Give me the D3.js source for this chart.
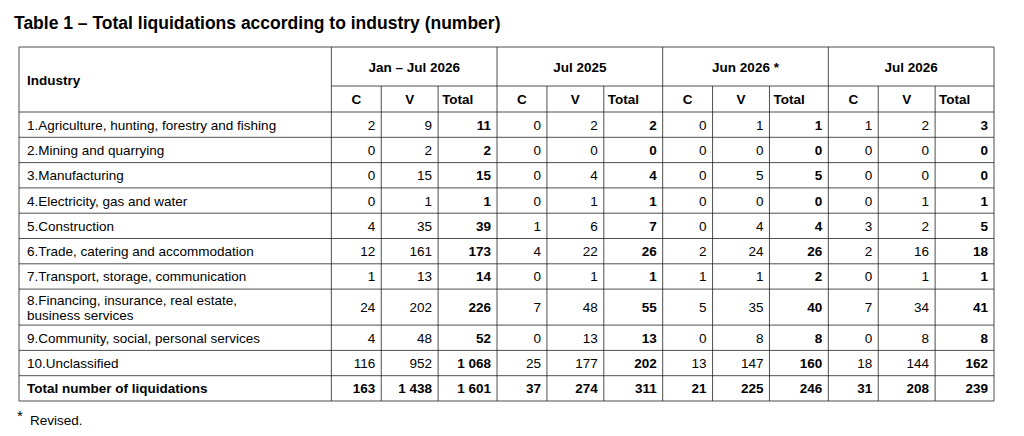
<!DOCTYPE html>
<html><head><meta charset="utf-8">
<script src="https://cdn.jsdelivr.net/npm/d3@7"></script>
<style>body{margin:0;background:#fff;font-family:"Liberation Sans",Arial,sans-serif}</style>
</head><body>
<svg id="chart" width="1024" height="436"></svg>
<script>
const groups = ["Jan – Jul 2026", "Jul 2025", "Jun 2026 *", "Jul 2026"];
const subCols = ["C", "V", "Total"];
const industries = [
  ["1.Agriculture, hunting, forestry and fishing"],
  ["2.Mining and quarrying"],
  ["3.Manufacturing"],
  ["4.Electricity, gas and water"],
  ["5.Construction"],
  ["6.Trade, catering and accommodation"],
  ["7.Transport, storage, communication"],
  ["8.Financing, insurance, real estate,", "business services"],
  ["9.Community, social, personal services"],
  ["10.Unclassified"],
  ["Total number of liquidations"]
];
const values = [
  ["2","9","11","0","2","2","0","1","1","1","2","3"],
  ["0","2","2","0","0","0","0","0","0","0","0","0"],
  ["0","15","15","0","4","4","0","5","5","0","0","0"],
  ["0","1","1","0","1","1","0","0","0","0","1","1"],
  ["4","35","39","1","6","7","0","4","4","3","2","5"],
  ["12","161","173","4","22","26","2","24","26","2","16","18"],
  ["1","13","14","0","1","1","1","1","2","0","1","1"],
  ["24","202","226","7","48","55","5","35","40","7","34","41"],
  ["4","48","52","0","13","13","0","8","8","0","8","8"],
  ["116","952","1 068","25","177","202","13","147","160","18","144","162"],
  ["163","1 438","1 601","37","274","311","21","225","246","31","208","239"]
];

const svg = d3.select("#chart");
const left = 19, right = 994, tableTop = 47;
const indW = 313;
const subW = [50, 57, 59];
const h1 = 39, h2 = 26;
const rowH = industries.map(d => d.length > 1 ? 36 : 25.3);

// column edges
const colX = [left, left + indW];
groups.forEach(() => subW.forEach(w => colX.push(colX[colX.length - 1] + w)));
const sx = d3.scaleLinear().domain([colX[0], colX[colX.length-1]]).range([left, right]);
const X = colX.map(sx);

const rowY = [tableTop + h1 + h2];
rowH.forEach(h => rowY.push(rowY[rowY.length - 1] + h));
const bottom = rowY[rowY.length - 1];

svg.append("text").attr("x", 14).attr("y", 29).attr("font-size", 17.5).attr("font-weight", "bold")
  .text("Table 1 – Total liquidations according to industry (number)");

const g = svg.append("g").attr("stroke", "#222").attr("stroke-width", 0.8);
const line = (x1,y1,x2,y2) => g.append("line").attr("x1",x1).attr("y1",y1).attr("x2",x2).attr("y2",y2);
line(left, tableTop, right, tableTop);
line(X[1], tableTop + h1, right, tableTop + h1);
rowY.forEach(y => line(left, y, right, y));
line(left, tableTop, left, bottom);
X.slice(1).forEach((x, i) => {
  const isGroup = i === 0 || i % 3 === 0;
  line(x, isGroup ? tableTop : tableTop + h1, x, bottom);
});

const t = svg.append("g").attr("font-size", 13.5).attr("fill", "#000");
t.append("text").attr("x", 27).attr("y", tableTop + 38).attr("font-weight", "bold").text("Industry");
groups.forEach((gname, gi) => {
  const x0 = X[1 + gi*3], x1 = X[4 + gi*3];
  t.append("text").attr("x", (x0+x1)/2).attr("y", tableTop + 25).attr("text-anchor","middle")
    .attr("font-weight","bold").text(gname);
  subCols.forEach((s, si) => {
    const a = X[1+gi*3+si], b = X[2+gi*3+si];
    t.append("text").attr("x", si === 2 ? a + 4 : (a+b)/2).attr("y", tableTop + h1 + 18)
      .attr("text-anchor", si === 2 ? "start" : "middle").attr("font-weight","bold").text(s);
  });
});
industries.forEach((lines, r) => {
  const last = r === industries.length - 1;
  const cy = (rowY[r] + rowY[r+1]) / 2;
  lines.forEach((ln, li) => {
    t.append("text").attr("x", 27).attr("y", cy + 5 + (li - (lines.length-1)/2) * 15)
      .attr("font-weight", last ? "bold" : null).text(ln);
  });
  values[r].forEach((v, c) => {
    t.append("text").attr("x", X[c+2] - 6).attr("y", cy + 5).attr("text-anchor", "end")
      .attr("font-weight", (last || c % 3 === 2) ? "bold" : null).text(v);
  });
});
svg.append("text").attr("x", 17).attr("y", 421).attr("font-size", 15).text("*");
svg.append("text").attr("x", 30).attr("y", 425).attr("font-size", 13.5).text("Revised.");
</script>
</body></html>
